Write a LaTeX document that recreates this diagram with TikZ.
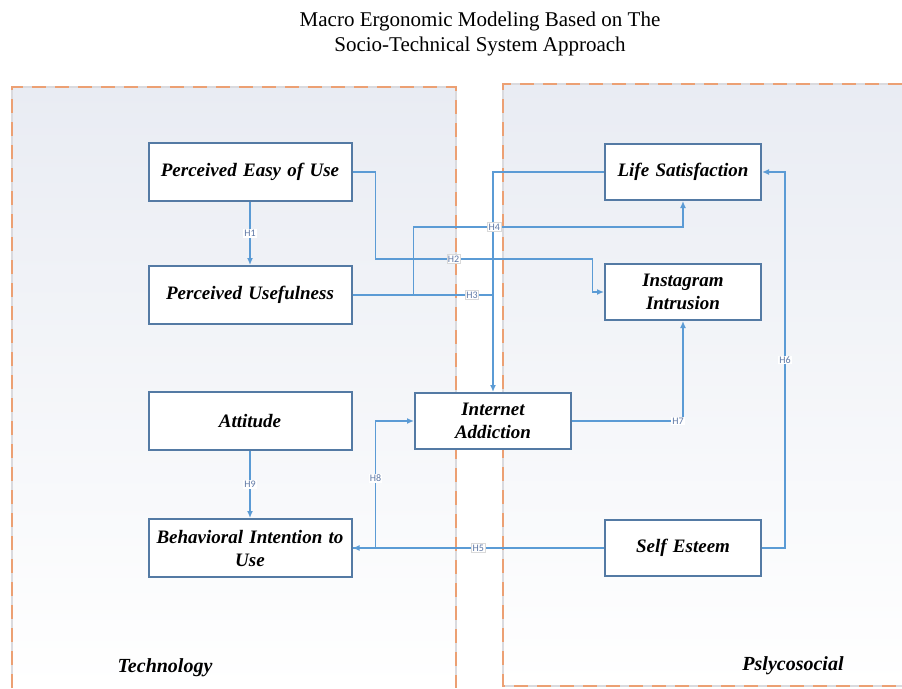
\documentclass[tikz,border=0pt]{standalone}
\usepackage{fontspec}
\setmainfont{Liberation Serif}
\newfontfamily\hfont{Carlito}
\usetikzlibrary{arrows.meta,positioning}

\definecolor{lineblue}{RGB}{91,155,213}
\definecolor{boxblue}{RGB}{84,122,164}
\definecolor{dashorange}{RGB}{236,160,115}
\definecolor{dashgray}{RGB}{218,218,222}
\definecolor{panelfill}{RGB}{233,236,243}
\definecolor{labeltext}{RGB}{95,120,165}

\begin{document}
\begin{tikzpicture}[
		x=1pt, y=-1pt,
		block/.style={draw=boxblue, line width=2pt, fill=white, minimum height=58pt, minimum width=203pt, text width=200pt, align=center, inner sep=0pt, font=\fontsize{19}{23}\selectfont\bfseries\itshape},
		rblock/.style={block, minimum height=56pt, minimum width=156pt, text width=154pt},
		link/.style={draw=lineblue, line width=1.5pt, -{Latex[length=7pt,width=6pt]}},
		plain/.style={draw=lineblue, line width=1.5pt},
		hyp/.style={fill=white, inner sep=1pt, text=labeltext, font=\hfont\fontsize{10}{10}\selectfont},
		hypbox/.style={hyp, draw=gray!30, line width=0.8pt},
		rim/.style={dashgray, line width=2pt},
		rimdash/.style={dashorange, line width=2pt, dash pattern=on 14pt off 9pt},
		region/.style={font=\fontsize{20}{20}\selectfont\bfseries\itshape},
	]
		\useasboundingbox (0,0) rectangle (902,688);

		% panels
		\fill[top color=panelfill, bottom color=white] (12,87) rectangle (456,688);
		\fill[top color=panelfill, bottom color=white] (503,84) rectangle (902,686);
		\draw[rim] (12,688) -- (12,87) -- (456,87) -- (456,688);
		\draw[rimdash] (12,688) -- (12,87) -- (456,87) -- (456,688);
		\draw[rim] (902,84) -- (503,84) -- (503,686) -- (902,686);
		\draw[rimdash] (902,84) -- (503,84) -- (503,686) -- (902,686);

		\node[align=center, font=\fontsize{21}{25}\selectfont] (title) at (480,34) {Macro Ergonomic Modeling Based on The\\Socio-Technical System Approach};

		\node[block] (peu) at (250,172) {Perceived Easy of Use};
		\node[block, below=63pt of peu] (pu) {Perceived Usefulness};
		\node[block, below=66pt of pu] (att) {Attitude};
		\node[block, below=67pt of att] (bi) {Behavioral Intention to\\Use};
		\node[rblock] (ia) at (493,421) {Internet\\Addiction};
		\node[rblock] (ls) at (683,172) {Life Satisfaction};
		\node[rblock, below=62pt of ls] (ii) {Instagram\\Intrusion};
		\node[rblock] (se) at (683,548) {Self Esteem};

		\node[region] (tech) at (165,668) {Technology};
		\node[region] (psy) at (793,666) {Pslycosocial};

		\draw[plain] (ls.west) -| (ia.north |- pu.east);
		\draw[link] (peu) -- node[hyp]{H1} (pu);
		\draw[link] (att) -- node[hyp]{H9} (bi);
		\draw[link] (peu.east) -- ++(23,0) -- ++(0,87) -- node[hypbox, pos=0.36]{H2} ++(217,0) |- (ii.west);
		\draw[link] (pu.east) -- ++(61,0) -- ++(0,-68) -| node[hypbox, pos=0.15]{H4} (ls.south);
		\draw[link] (pu.east) -| node[hypbox, pos=0.425]{H3} (ia.north);
		\draw[link] (se.west) -- node[hypbox]{H5} (bi.east);
		\draw[link] (bi.east) -- ++(23,0) |- node[hyp, pos=0.275]{H8} (ia.west);
		\draw[link] (se.east) -- ++(23,0) |- node[hyp, pos=0.25]{H6} (ls.east);
		\draw[link] (ia.east) -| node[hyp, pos=0.478]{H7} (ii.south);
	\end{tikzpicture}
\end{document}
